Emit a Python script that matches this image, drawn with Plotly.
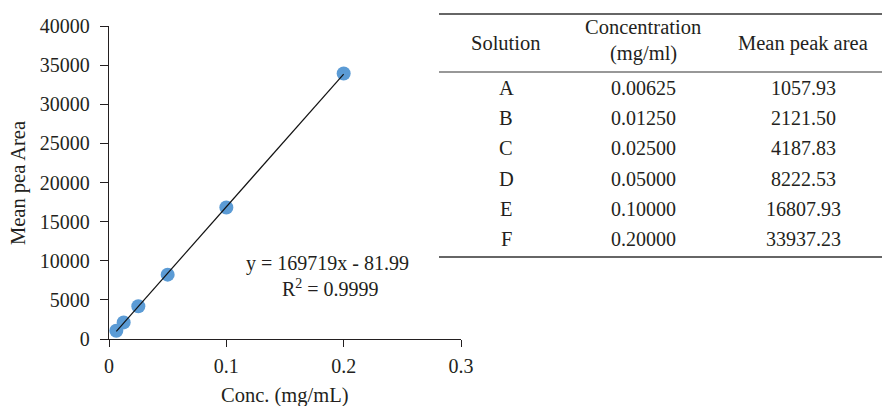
import plotly.graph_objects as go

W, H = 882, 406

solutions = ["A", "B", "C", "D", "E", "F"]
conc = [0.00625, 0.01250, 0.02500, 0.05000, 0.10000, 0.20000]
conc_labels = ["0.00625", "0.01250", "0.02500", "0.05000", "0.10000", "0.20000"]
peak_area = [1057.93, 2121.50, 4187.83, 8222.53, 16807.93, 33937.23]
peak_labels = ["1057.93", "2121.50", "4187.83", "8222.53", "16807.93", "33937.23"]
slope = 169719
intercept = -81.99
r2_text = "0.9999"
x_ticks = [0, 0.1, 0.2, 0.3]
x_tick_text = ["0", "0.1", "0.2", "0.3"]
y_ticks = [0, 5000, 10000, 15000, 20000, 25000, 30000, 35000, 40000]

FONT = "Liberation Serif"
TXT = "#231f20"
FS = 20
FT = 20.5

def px(x):
    return x / W

def py(y):
    return 1 - y / H

def text(x, y, t, size=FS):
    fig.add_annotation(x=px(x), y=py(y), xref="paper", yref="paper",
                       text=t, showarrow=False, xanchor="center", yanchor="middle",
                       font=dict(family=FONT, size=size, color=TXT))

fig = go.Figure()

tx = [conc[0], conc[-1]]
ty = [slope * v + intercept for v in tx]

fig.add_trace(go.Scatter(
    x=conc, y=peak_area, mode="markers",
    marker=dict(color="#5b9bd5", size=14, line=dict(width=0)),
    showlegend=False, hoverinfo="x+y"))
fig.add_trace(go.Scatter(
    x=tx, y=ty, mode="lines", line=dict(color="#111111", width=1.2),
    showlegend=False, hoverinfo="skip"))

fig.update_layout(
    width=W, height=H,
    margin=dict(l=0, r=0, t=0, b=0),
    paper_bgcolor="white", plot_bgcolor="white",
    font=dict(family=FONT, size=FS, color=TXT),
    xaxis=dict(domain=[px(109), px(461)], range=[0, 0.3],
               tickvals=x_ticks, ticktext=x_tick_text, automargin=False,
               showgrid=False, zeroline=False,
               showline=True, linecolor=TXT, linewidth=1.3,
               ticks="outside", ticklen=7, tickcolor=TXT, tickwidth=1.3,
               ticklabelstandoff=2,
               tickfont=dict(family=FONT, size=FS, color=TXT)),
    yaxis=dict(domain=[py(339), py(26)], range=[0, 40000],
               tickvals=y_ticks, tickformat="d", automargin=False,
               showgrid=False, zeroline=False,
               showline=True, linecolor=TXT, linewidth=1.3,
               ticks="outside", ticklen=8, tickcolor=TXT, tickwidth=1.3,
               ticklabelstandoff=6,
               tickfont=dict(family=FONT, size=FS, color=TXT)),
)

# axis titles
text(285, 395, "Conc. (mg/mL)", FT)
fig.add_annotation(x=px(18), y=py(183), xref="paper", yref="paper",
                   text="Mean pea Area", showarrow=False, textangle=-90,
                   xanchor="center", yanchor="middle",
                   font=dict(family=FONT, size=FT, color=TXT))

# equation annotations
text(327, 263, f"y = {slope}x - {abs(intercept):.2f}")
text(330, 288, f"R<sup>2</sup> = {r2_text}")

# table
col_x = [506, 643, 803]
for yline, w in [(14, 1.6), (72, 1.2), (257, 1.6)]:
    fig.add_shape(type="line", xref="paper", yref="paper",
                  x0=px(439), x1=px(882), y0=py(yline), y1=py(yline),
                  line=dict(color="#333333", width=w))

text(col_x[0], 43, "Solution", FT)
text(col_x[1], 27, "Concentration", FT)
text(col_x[1], 53, "(mg/ml)", FT)
text(col_x[2], 43, "Mean peak area", FT)

row_y0, row_dy = 88, 30.2
for i, (s, c, p) in enumerate(zip(solutions, conc_labels, peak_labels)):
    yy = row_y0 + i * row_dy
    for cx, t in zip(col_x, [s, c, p]):
        text(cx, yy, t, FT if t == s else FS)

fig.write_html("out.html",
               config={"displayModeBar": False},
               post_script="document.body.style.margin='0';document.body.style.padding='0';")
